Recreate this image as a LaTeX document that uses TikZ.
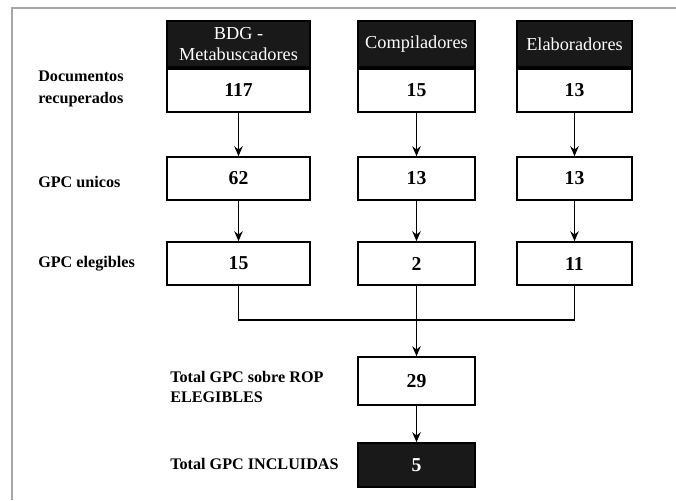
\documentclass[tikz,border=0pt]{standalone}
\usepackage{fontspec}
\setmainfont{Liberation Serif}
\usetikzlibrary{positioning,arrows.meta}

\begin{document}
\begin{tikzpicture}[
    x=0.025cm, y=-0.025cm,
    >={Stealth[length=7pt,width=6pt]},
    head/.style={draw, line width=1.2pt, fill=black!90, text=white, align=center, inner sep=0pt,
        font=\fontsize{13}{15}\selectfont, minimum height=1.15cm},
    cell/.style={draw, line width=1.2pt, fill=white, inner sep=0pt,
        font=\fontsize{14}{16}\selectfont\bfseries, minimum height=1.075cm},
    result/.style={cell, fill=black!90, text=white},
    rowlabel/.style={anchor=west, align=left, inner sep=0pt,
        font=\fontsize{11.5}{15.5}\selectfont\bfseries},
    flow/.style={->, line width=1.2pt},
    frame/.style={draw=gray!70, thick}
]
    \useasboundingbox (0,0) rectangle (676,500);
    % marco
    \draw[frame] (12,500) -- (12,8) -- (676,8);

    % cabeceras de las fuentes
    \node[head, minimum width=3.575cm] (bdg) at (238.5,44) {BDG -\\Metabuscadores};
    \node[head, minimum width=2.925cm] (comp) at (416.5,44) {Compiladores};
    \node[head, minimum width=2.875cm] (elab) at (574.5,44) {Elaboradores};

    % documentos recuperados
    \node[cell, minimum width=3.575cm, below=0pt of bdg] (rec1) {117};
    \node[cell, minimum width=2.925cm, below=0pt of comp] (rec2) {15};
    \node[cell, minimum width=2.875cm, below=0pt of elab] (rec3) {13};

    % GPC unicos
    \node[cell, minimum width=3.575cm] (uni1) at (238.5,178.5) {62};
    \node[cell, minimum width=2.925cm] (uni2) at (416.5,178.5) {13};
    \node[cell, minimum width=2.875cm] (uni3) at (574.5,178.5) {13};

    % GPC elegibles
    \node[cell, minimum width=3.575cm] (ele1) at (238.5,263.5) {15};
    \node[cell, minimum width=2.925cm] (ele2) at (416.5,263.5) {2};
    \node[cell, minimum width=2.875cm] (ele3) at (574.5,263.5) {11};

    % totales
    \node[cell, minimum width=2.925cm, minimum height=1.2cm] (tot) at (416.5,381) {29};
    \node[result, minimum width=2.925cm, minimum height=1.1cm] (inc) at (416.5,465) {5};

    % etiquetas de fila
    \node[rowlabel] (lrec) at (38,89) {Documentos\\recuperados};
    \node[rowlabel] (luni) at (38,182) {GPC unicos};
    \node[rowlabel] (lele) at (38,264) {GPC elegibles};
    \node[rowlabel, font=\fontsize{11.5}{14.5}\selectfont\bfseries] (ltot) at (170,387) {Total GPC sobre ROP\\ELEGIBLES};
    \node[rowlabel] (linc) at (170,464) {Total GPC INCLUIDAS};

    % flechas
    \foreach \i in {1,2,3} {
        \draw[flow] (rec\i) -- (uni\i);
        \draw[flow] (uni\i) -- (ele\i);
    }
    \coordinate (join) at (416.5,320);
    \draw[line width=1.2pt] (ele1.south) -- (ele1.south |- join) -- (ele3.south |- join) -- (ele3.south);
    \draw[flow] (ele2) -- (tot);
    \draw[flow] (tot) -- (inc);
\end{tikzpicture}
\end{document}
